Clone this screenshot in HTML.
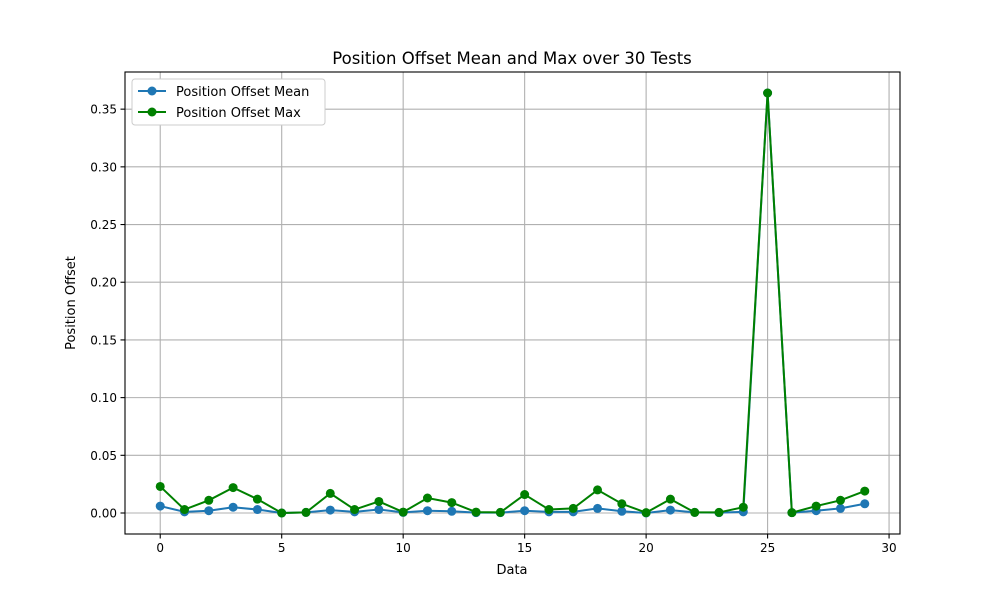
<!DOCTYPE html>
<html><head><meta charset="utf-8"><style>
html,body{margin:0;padding:0;background:#fff;}
svg text{font-family:"DejaVu Sans","Liberation Sans",sans-serif;}
</style></head><body>
<svg id="chart" width="1000" height="600" xmlns="http://www.w3.org/2000/svg">
<rect width="1000" height="600" fill="#fff"/>
<g id="grid"></g>
<g id="axes"></g>
<g id="series"></g>
<text x="512" y="64" text-anchor="middle" font-size="16.5">Position Offset Mean and Max over 30 Tests</text>
<text x="512" y="574" text-anchor="middle" font-size="13">Data</text>
<text x="75" y="303" text-anchor="middle" font-size="13" transform="rotate(-90 75 303)">Position Offset</text>
<g>
<rect x="132" y="79" width="193" height="46" fill="#fff" stroke="#ccc" rx="3"/>
<g>
<line x1="138" y1="91" x2="166" y2="91" stroke="#1f77b4" stroke-width="2"/><circle cx="152" cy="91" r="4.5" fill="#1f77b4"/>
<text x="176" y="96" font-size="13">Position Offset Mean</text></g>
<g>
<line x1="138" y1="112" x2="166" y2="112" stroke="green" stroke-width="2"/><circle cx="152" cy="112" r="4.5" fill="green"/>
<text x="176" y="117" font-size="13">Position Offset Max</text></g>
</g>
</svg>
<script>
const categories=[0,1,2,3,4,5,6,7,8,9,10,11,12,13,14,15,16,17,18,19,20,21,22,23,24,25,26,27,28,29];
const meanValues=[0.006,0.001,0.002,0.005,0.003,0.0,0.0005,0.0025,0.001,0.003,0.0005,0.002,0.0015,0.0003,0.0003,0.002,0.001,0.001,0.004,0.0015,0.0,0.0025,0.0005,0.0003,0.001,0.364,0.0003,0.002,0.004,0.008];
const maxValues=[0.023,0.003,0.011,0.022,0.012,0.0,0.0005,0.017,0.003,0.010,0.0008,0.013,0.009,0.0008,0.0005,0.016,0.003,0.004,0.020,0.008,0.0003,0.012,0.0005,0.0005,0.005,0.364,0.0003,0.006,0.011,0.019];
const xTicks=[0,5,10,15,20,25,30];
const yTicks=[0,0.05,0.10,0.15,0.20,0.25,0.30,0.35];
const L=125,R=900,T=72,B=534;
const xmin=-1.45,xmax=30.45,ymin=-0.0182,ymax=0.3822;
const xs=v=>L+(v-xmin)/(xmax-xmin)*(R-L);
const ys=v=>B-(v-ymin)/(ymax-ymin)*(B-T);
const NS="http://www.w3.org/2000/svg";
function mk(t,a,p){const e=document.createElementNS(NS,t);for(const k in a)e.setAttribute(k,a[k]);p.appendChild(e);return e;}
const grid=document.getElementById('grid'),axes=document.getElementById('axes'),ser=document.getElementById('series');
xTicks.forEach(v=>{const x=xs(v);
const g=mk('line',{x1:x,x2:x,y1:T,y2:B,stroke:'#b0b0b0','stroke-width':1.1},grid);

mk('line',{x1:x,x2:x,y1:B,y2:B+4.5,stroke:'#000','stroke-width':1.1},axes);
const t=mk('text',{x:x,y:B+18,'text-anchor':'middle','font-size':12},axes);t.textContent=v;
});
yTicks.forEach(v=>{const y=ys(v);
const g=mk('line',{x1:L,x2:R,y1:y,y2:y,stroke:'#b0b0b0','stroke-width':1.1},grid);

mk('line',{x1:L-4.5,x2:L,y1:y,y2:y,stroke:'#000','stroke-width':1.1},axes);
const t=mk('text',{x:L-8,y:y+4.5,'text-anchor':'end','font-size':12},axes);t.textContent=v.toFixed(2);
});
const fr=mk('rect',{x:L,y:T,width:R-L,height:B-T,fill:'none',stroke:'#000','stroke-width':1.1},axes);

function draw(vals,color,name){
const pts=categories.map((c,i)=>xs(c)+','+ys(vals[i])).join(' ');
const pl=mk('polyline',{points:pts,fill:'none',stroke:color,'stroke-width':2},ser);

categories.forEach((c,i)=>{const p=mk('circle',{cx:xs(c),cy:ys(vals[i]),r:4.5,fill:color},ser);
});}
draw(meanValues,'#1f77b4','mean');
draw(maxValues,'green','max');
</script>
</body></html>
